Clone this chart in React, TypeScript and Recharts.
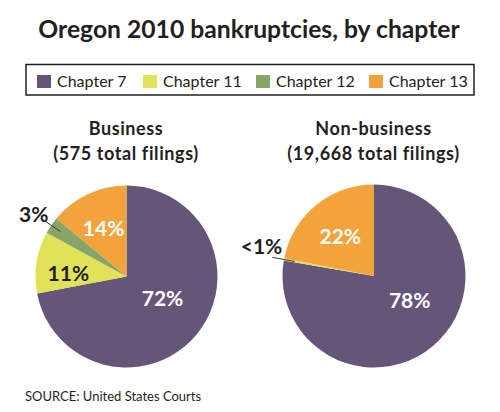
import React from "react";
import { PieChart, Pie, Cell } from "recharts";

const categories = ["Chapter 7", "Chapter 11", "Chapter 12", "Chapter 13"];
const colors = ["#655579", "#E2E15A", "#87A566", "#F2A33C"];
const businessValues = [72, 11, 3, 14];
const nonBusinessValues = [78, 0.4, 0, 22];
const businessLabels = ["72%", "11%", "3%", "14%"];
const nonBusinessLabels = ["78%", "<1%", "", "22%"];
const title = "Oregon 2010 bankruptcies, by chapter";
const businessTitle = ["Business", "(575 total filings)"];
const nonBusinessTitle = ["Non-business", "(19,668 total filings)"];
const source = "SOURCE: United States Courts";

const businessData = categories.map((name, i) => ({ name, value: businessValues[i] }));
const nonBusinessData = categories.map((name, i) => ({ name, value: nonBusinessValues[i] }));

// label styling: radius factor, angle nudge, colour, outside leader
type LabelCfg = { r: number; d: number; fill: string; outside?: boolean; tx?: number; ty?: number };
const businessLabelCfg: LabelCfg[] = [
  { r: 0.46, d: 9, fill: "#ffffff" },
  { r: 0.64, d: 5, fill: "#231f20" },
  { r: 0, d: 0, fill: "#231f20", outside: true, tx: 7, ty: -5 },
  { r: 0.59, d: 0, fill: "#ffffff" },
];
const nonBusinessLabelCfg: LabelCfg[] = [
  { r: 0.47, d: 16, fill: "#ffffff" },
  { r: 0, d: 0, fill: "#231f20", outside: true, tx: 10, ty: -12 },
  { r: 0, d: 0, fill: "#231f20" },
  { r: 0.58, d: 0, fill: "#ffffff" },
];

const FONT = "Lato, 'Open Sans', sans-serif";
const RAD = Math.PI / 180;

function makeLabel(texts: string[], cfg: LabelCfg[]) {
  return (props: any) => {
    const { cx, cy, outerRadius, index } = props;
    const mid = props.midAngle ?? (props.startAngle + props.endAngle) / 2;
    const t = texts[index];
    const c = cfg[index];
    if (!t) return null;
    if (c.outside) {
      const ca = Math.cos(mid * RAD);
      const sa = Math.sin(mid * RAD);
      const x1 = cx + outerRadius * 0.88 * ca;
      const y1 = cy - outerRadius * 0.88 * sa;
      const x2 = cx + outerRadius * 1.13 * ca;
      const y2 = cy - outerRadius * 1.13 * sa;
      return (
        <g key={`l-${index}`}>
          <line x1={x1} y1={y1} x2={x2} y2={y2} stroke="#3a3a3a" strokeWidth={1} />
          <text
            x={x2 + (c.tx || 0)}
            y={y2 + (c.ty || 0)}
            textAnchor="end"
            dominantBaseline="central"
            fill={c.fill}
            fontFamily={FONT}
            fontWeight={700}
            fontSize={21}
          >
            {t}
          </text>
        </g>
      );
    }
    const a = (mid + c.d) * RAD;
    const x = cx + outerRadius * c.r * Math.cos(a);
    const y = cy - outerRadius * c.r * Math.sin(a);
    return (
      <text
        key={`l-${index}`}
        x={x}
        y={y}
        textAnchor="middle"
        dominantBaseline="central"
        fill={c.fill}
        fontFamily={FONT}
        fontWeight={700}
        fontSize={21}
      >
        {t}
      </text>
    );
  };
}

const legendX = [37, 143, 256, 369];

export default function App() {
  return (
    <div style={{ position: "absolute", left: 0, top: 0, width: 500, height: 412, background: "#fff" }}>
      <PieChart width={500} height={412} margin={{ top: 0, right: 0, bottom: 0, left: 0 }}>
        <Pie
          data={businessData}
          dataKey="value"
          nameKey="name"
          cx={126.5}
          cy={276.5}
          outerRadius={91}
          startAngle={90}
          endAngle={-270}
          stroke="none"
          isAnimationActive={false}
          labelLine={false}
          label={makeLabel(businessLabels, businessLabelCfg)}
        >
          {businessData.map((d, i) => (
            <Cell key={d.name} fill={colors[i]} />
          ))}
        </Pie>
        <Pie
          data={nonBusinessData}
          dataKey="value"
          nameKey="name"
          cx={374}
          cy={276}
          outerRadius={91.5}
          startAngle={90}
          endAngle={-270}
          stroke="none"
          isAnimationActive={false}
          labelLine={false}
          label={makeLabel(nonBusinessLabels, nonBusinessLabelCfg)}
        >
          {nonBusinessData.map((d, i) => (
            <Cell key={d.name} fill={colors[i]} />
          ))}
        </Pie>
      </PieChart>
      <svg
        width={500}
        height={412}
        style={{ position: "absolute", left: 0, top: 0, pointerEvents: "none" }}
      >
        <text x={249} y={38} textAnchor="middle" fontFamily={FONT} fontWeight={700} fontSize={24.7} fill="#231f20">
          {title}
        </text>
        <rect x={26} y={64.5} width={448} height={30.5} fill="none" stroke="#231f20" strokeWidth={1.5} />
        {categories.map((c, i) => (
          <g key={c}>
            <rect x={legendX[i]} y={75} width={14} height={13} fill={colors[i]} />
            <text x={legendX[i] + 20} y={87} fontFamily={FONT} fontSize={16} fill="#231f20">
              {c}
            </text>
          </g>
        ))}
        <text x={126} y={135} textAnchor="middle" fontFamily={FONT} fontWeight={700} fontSize={18} letterSpacing={0.6} fill="#231f20">
          {businessTitle[0]}
        </text>
        <text x={126} y={160} textAnchor="middle" fontFamily={FONT} fontWeight={700} fontSize={18} letterSpacing={0.6} fill="#231f20">
          {businessTitle[1]}
        </text>
        <text x={373.5} y={135} textAnchor="middle" fontFamily={FONT} fontWeight={700} fontSize={18} letterSpacing={0.6} fill="#231f20">
          {nonBusinessTitle[0]}
        </text>
        <text x={373.5} y={160} textAnchor="middle" fontFamily={FONT} fontWeight={700} fontSize={18} letterSpacing={0.6} fill="#231f20">
          {nonBusinessTitle[1]}
        </text>
        <text x={25} y={401} fontFamily={FONT} fontSize={13} fill="#231f20">
          {source}
        </text>
      </svg>
    </div>
  );
}
